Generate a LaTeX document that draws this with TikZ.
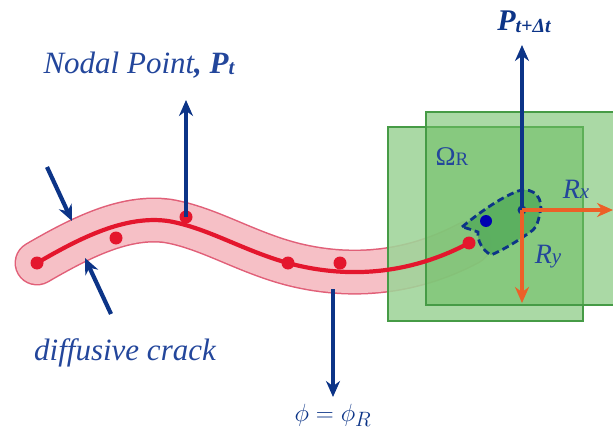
\documentclass[tikz,border=0pt]{standalone}
\usepackage{fontspec}
\setmainfont{Liberation Serif}
\usetikzlibrary{arrows.meta}
\definecolor{navy}{RGB}{12,52,135}
\definecolor{txtblue}{RGB}{35,70,155}
\definecolor{crackred}{RGB}{228,22,45}
\definecolor{bandpink}{RGB}{246,192,198}
\definecolor{bandedge}{RGB}{225,95,120}
\definecolor{sqfill}{RGB}{110,190,100}
\definecolor{sqedge}{RGB}{70,155,70}
\definecolor{orng}{RGB}{236,96,40}
\definecolor{blobfill}{RGB}{85,172,92}
\tikzset{
  navyarrow/.style={draw=navy,line width=4.2pt,-{Stealth[length=16pt,width=14pt]}},
  orarrow/.style={draw=orng,line width=4.2pt,-{Stealth[length=16pt,width=14pt]}},
  greensq/.style={fill=sqfill,fill opacity=0.58,draw=sqedge,line width=1.4pt},
  reddot/.style={circle,fill=crackred,inner sep=0pt,minimum size=13pt},
  bluedot/.style={circle,fill=blue!70!black,inner sep=0pt,minimum size=12pt},
  lbl/.style={text=txtblue,inner sep=1pt},
}
\begin{document}
\begin{tikzpicture}[x=1pt,y=-1pt]
\useasboundingbox (0,0) rectangle (613,441);
% band
\def\crackpath{(37,263) .. controls (80,238) and (125,215) .. (168,221) .. controls (210,228) and (250,255) .. (300,266) .. controls (345,276) and (405,277) .. (469,243)}
\draw[bandedge,line width=45pt,line cap=round] \crackpath;
\draw[bandpink,line width=42pt,line cap=round] \crackpath;
% fade band under squares
\fill[white,opacity=0.72] (388,127) rectangle (583,321) (426,112) rectangle (625,305);
% green squares
\draw[greensq] (388,127) rectangle (583,321);
\draw[greensq] (426,112) rectangle (625,305);
% blob
\draw[navy,line width=2.8pt,dash pattern=on 7pt off 4pt,fill=blobfill,fill opacity=0.85]
 (462,227) .. controls (480,212) and (500,198) .. (518,191)
 .. controls (535,186) and (544,200) .. (540,213)
 .. controls (538,222) and (537,226) .. (533,230)
 .. controls (518,241) and (503,250) .. (491,255)
 .. controls (482,250) and (477,240) .. (478,232)
 .. controls (472,230) and (467,228) .. (462,227) -- cycle;
% crack line
\draw[crackred,line width=4.2pt,line cap=round] \crackpath;
\node[reddot] (d1) at (37,263) {};
\node[reddot] (d2) at (116,238) {};
\node[reddot] (d3) at (186,217) {};
\node[reddot] (d4) at (288,263) {};
\node[reddot] (d5) at (340,263) {};
\node[reddot] (d6) at (469,243) {};
\node[bluedot] (b1) at (486,221) {};
\node[circle,fill=navy,inner sep=0pt,minimum size=9pt] (b2) at (522,210) {};
% arrows
\coordinate (ptip) at (186,100);
\draw[navyarrow] (d3.center) -- (ptip);
\coordinate (ntip) at (522,45);
\draw[navyarrow] (b2.center) -- (ntip);
\coordinate (rx) at (613,210);
\coordinate (ry) at (522,303);
\draw[orarrow] (b2.center) -- (rx);
\draw[orarrow] (b2.center) -- (ry);
\coordinate (phistart) at (333,289);
\coordinate (phitip) at (333,397);
\draw[navyarrow] (phistart) -- (phitip);
\coordinate (a1s) at (47,167);
\coordinate (a1e) at (72,221);
\draw[navyarrow] (a1s) -- (a1e);
\coordinate (a2s) at (111,314);
\coordinate (a2e) at (85,258);
\draw[navyarrow] (a2s) -- (a2e);
% labels
\node[lbl,anchor=base] (nodal) at (139,74) {\fontsize{31}{34}\selectfont\itshape Nodal Point\bfseries, P\raisebox{-1pt}{\fontsize{21}{22}\selectfont t}};
\node[lbl,anchor=base] (diff) at (125,360) {\fontsize{31}{34}\selectfont\itshape diffusive crack};
\node[text=navy,anchor=base] (phi) at (333,421) {\fontsize{32}{34}\selectfont $\phi=\phi_R$};
\node[text=navy,anchor=base] (ptdt) at (524,31) {\fontsize{30}{32}\selectfont\bfseries\itshape P\raisebox{-2pt}{\fontsize{20}{22}\selectfont t+Δt}};
\node[lbl,anchor=base] (omega) at (452,165) {\fontsize{27}{28}\selectfont Ω\fontsize{19}{20}\selectfont R};
\node[lbl,anchor=base] (rxl) at (576,198) {\fontsize{28}{28}\selectfont\itshape R\fontsize{21}{20}\selectfont x};
\node[lbl,anchor=base] (ryl) at (548,263) {\fontsize{28}{28}\selectfont\itshape R\fontsize{21}{20}\selectfont y};
\end{tikzpicture}
\end{document}
